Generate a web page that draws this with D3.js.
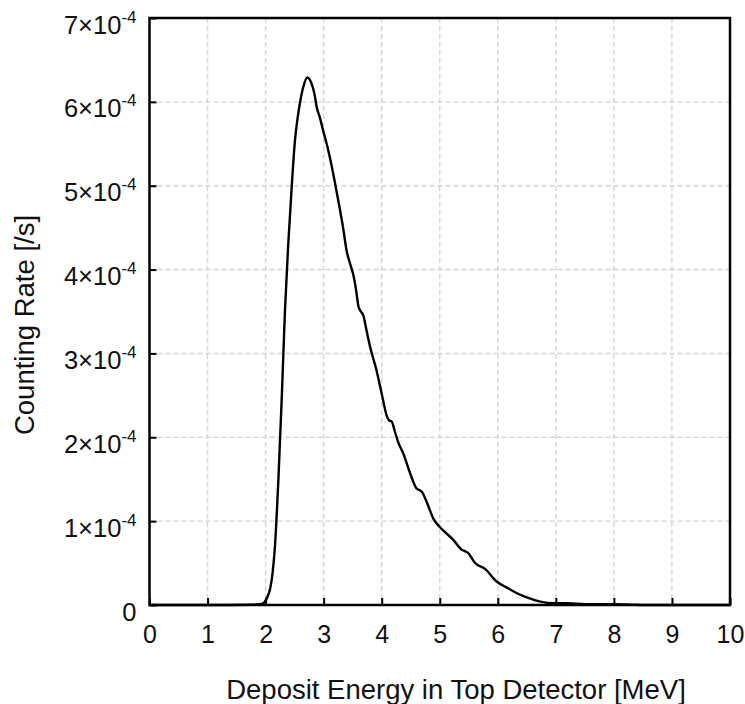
<!DOCTYPE html>
<html>
<head>
<meta charset="utf-8">
<script src="https://cdn.jsdelivr.net/npm/d3@7"></script>
<style>
  html, body { margin: 0; padding: 0; background: #fff; }
  svg text { font-family: "Liberation Sans", Arial, sans-serif; fill: #111; }
</style>
</head>
<body>
<svg id="chart" width="745" height="704"></svg>
<script>
// Deposit energy (MeV) and counting rate (units of 1e-4 /s) for the spectrum
const energy = [0, 1.0, 1.75, 1.9, 1.96, 2.02, 2.08, 2.12, 2.16, 2.22, 2.28, 2.334, 2.39, 2.45, 2.506, 2.55, 2.59, 2.65, 2.72, 2.79, 2.84, 2.88, 2.94, 2.99, 3.07, 3.14, 3.25, 3.33, 3.40, 3.46, 3.51, 3.56, 3.60, 3.64, 3.68, 3.74, 3.80, 3.91, 4.00, 4.09, 4.13, 4.17, 4.23, 4.29, 4.37, 4.49, 4.60, 4.65, 4.69, 4.78, 4.89, 5.00, 5.12, 5.23, 5.38, 5.44, 5.49, 5.55, 5.61, 5.78, 5.98, 6.15, 6.33, 6.50, 6.73, 6.96, 7.2, 7.5, 8.0, 8.3, 8.5, 10];
const rate =   [0, 0,   0.003, 0.01, 0.02, 0.08, 0.2, 0.38, 0.69, 1.49, 2.5, 3.52, 4.3, 4.99, 5.54, 5.8, 5.98, 6.18, 6.29, 6.22, 6.1, 5.94, 5.8, 5.66, 5.45, 5.23, 4.83, 4.52, 4.21, 4.06, 3.94, 3.75, 3.56, 3.5, 3.46, 3.27, 3.08, 2.80, 2.52, 2.25, 2.2, 2.19, 2.06, 1.93, 1.81, 1.57, 1.39, 1.37, 1.35, 1.22, 1.03, 0.93, 0.85, 0.78, 0.66, 0.64, 0.62, 0.56, 0.50, 0.43, 0.28, 0.21, 0.14, 0.09, 0.04, 0.02, 0.02, 0.01, 0.01, 0.005, 0, 0];

const xTicks = [0, 1, 2, 3, 4, 5, 6, 7, 8, 9, 10];
const yTicks = [0, 1, 2, 3, 4, 5, 6, 7];   // multiples of 1e-4
const xTitle = "Deposit Energy in Top Detector [MeV]";
const yTitle = "Counting Rate [/s]";

const svg = d3.select("#chart");
const plot = { left: 149.5, right: 730, top: 18, bottom: 605 };

const x = d3.scaleLinear().domain([0, 10]).range([plot.left, plot.right]);
const y = d3.scaleLinear().domain([0, 7]).range([plot.bottom, plot.top]);

// dashed grid
const grid = svg.append("g").attr("stroke", "#d4d4d4").attr("stroke-width", 1.4)
  .attr("stroke-dasharray", "5,3");
grid.selectAll("line.gx").data(xTicks.slice(1, -1)).join("line")
  .attr("x1", d => x(d)).attr("x2", d => x(d))
  .attr("y1", plot.top).attr("y2", plot.bottom);
grid.selectAll("line.gy").data(yTicks.slice(1, -1)).join("line")
  .attr("x1", plot.left).attr("x2", plot.right)
  .attr("y1", d => y(d)).attr("y2", d => y(d));

// bottom axis: inward ticks, labels below
const xAxis = d3.axisBottom(x).tickValues(xTicks).tickSizeInner(-7).tickSizeOuter(0)
  .tickPadding(0).tickFormat(d3.format("d"));
const gx = svg.append("g").attr("transform", `translate(0,${plot.bottom})`).call(xAxis);
gx.select(".domain").remove();
gx.selectAll(".tick line").attr("stroke", "#000").attr("stroke-width", 2);
gx.selectAll(".tick text").attr("dy", null).attr("y", 37.5)
  .style("font-size", "25px").attr("fill", "#111");

// left axis: inward ticks, labels of the form k×10^-4
const yAxis = d3.axisLeft(y).tickValues(yTicks).tickSizeInner(-7).tickSizeOuter(0)
  .tickPadding(0).tickFormat(() => "");
const gy = svg.append("g").attr("transform", `translate(${plot.left},0)`).call(yAxis);
gy.select(".domain").remove();
gy.selectAll(".tick line").attr("stroke", "#000").attr("stroke-width", 2);
gy.selectAll(".tick text").each(function(d) {
  const t = d3.select(this).attr("x", -13).attr("dy", null).attr("y", 15)
    .attr("text-anchor", "end").style("font-size", "25.5px").attr("fill", "#111");
  if (d === 0) { t.text("0"); return; }
  t.append("tspan").text(d + "×10");
  t.append("tspan").attr("dy", -11).style("font-size", "17px").text("-4");
});

// spectrum curve
const pts = energy.map((e, i) => [e, rate[i]]);
const line = d3.line().x(d => x(d[0])).y(d => y(d[1])).curve(d3.curveMonotoneX);
svg.append("path").datum(pts).attr("d", line)
  .attr("fill", "none").attr("stroke", "#000").attr("stroke-width", 2.4)
  .attr("stroke-linejoin", "round");

// frame
svg.append("rect").attr("x", plot.left).attr("y", plot.top)
  .attr("width", plot.right - plot.left).attr("height", plot.bottom - plot.top)
  .attr("fill", "none").attr("stroke", "#000").attr("stroke-width", 2.5);

// axis titles
svg.append("text").attr("x", 456).attr("y", 699).attr("text-anchor", "middle")
  .style("font-size", "27.5px").text(xTitle);
svg.append("text").attr("transform", "translate(33.5,325) rotate(-90)")
  .attr("text-anchor", "middle").style("font-size", "27.5px").text(yTitle);
</script>
</body>
</html>
